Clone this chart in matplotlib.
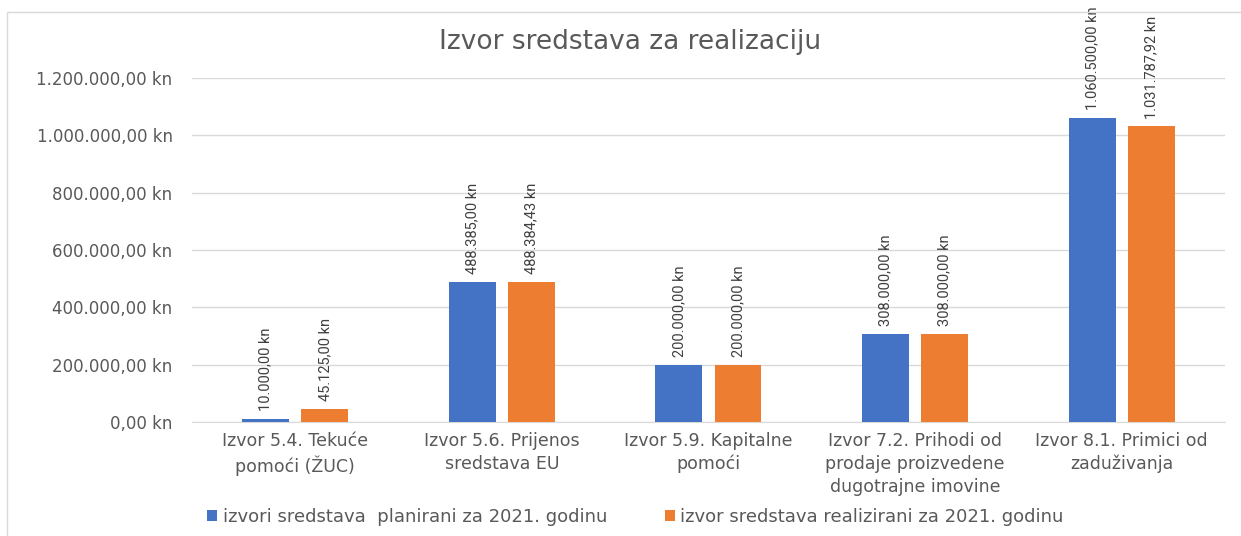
import numpy as np
import matplotlib.pyplot as plt
from matplotlib.patches import Rectangle

categories = [
    "Izvor 5.4. Tekuće\npomoći (ŽUC)",
    "Izvor 5.6. Prijenos\nsredstava EU",
    "Izvor 5.9. Kapitalne\npomoći",
    "Izvor 7.2. Prihodi od\nprodaje proizvedene\ndugotrajne imovine",
    "Izvor 8.1. Primici od\nzaduživanja",
]
planned = [10000.00, 488385.00, 200000.00, 308000.00, 1060500.00]
realized = [45125.00, 488384.43, 200000.00, 308000.00, 1031787.92]
series_names = [
    "izvori sredstava  planirani za 2021. godinu",
    "izvor sredstava realizirani za 2021. godinu",
]
yticks = [0, 200000, 400000, 600000, 800000, 1000000, 1200000]


def kn(v):
    s = f"{v:,.2f}"
    s = s.replace(",", "X").replace(".", ",").replace("X", ".")
    return s + " kn"


plt.rcParams['font.family'] = ['DejaVu Sans']
grey = '#595959'

fig = plt.figure(figsize=(12.41, 5.36), dpi=100)
ax = fig.add_axes([0.1547, 0.2127, 0.8324, 0.6418])

x = np.arange(len(categories))
w = 0.227
off = 0.143
b1 = ax.bar(x - off, planned, w, color='#4472C4', label=series_names[0], zorder=3)
b2 = ax.bar(x + off, realized, w, color='#ED7D31', label=series_names[1], zorder=3)

# value labels, rotated like in the source chart
for bars, vals in [(b1, planned), (b2, realized)]:
    for rect, v in zip(bars, vals):
        ax.annotate(kn(v), (rect.get_x() + rect.get_width() / 2, v),
                    xytext=(0, 5.5), textcoords='offset points',
                    rotation=90, ha='center', va='bottom',
                    fontsize=10.5, color='#404040', family=['Roboto', 'DejaVu Sans'],
                    clip_on=False)

ax.set_xlim(-0.5, len(categories) - 0.5)
ax.set_ylim(0, 1200000)
ax.set_yticks(yticks)
ax.set_yticklabels([kn(v) for v in yticks], fontsize=12, color=grey)
ax.set_xticks(x)
ax.set_xticklabels(categories, fontsize=12.5, color=grey, linespacing=1.35)
ax.tick_params(axis='x', length=0, pad=7)
ax.tick_params(axis='y', length=0, pad=14)
ax.grid(axis='y', color='#d9d9d9', linewidth=1, zorder=0)
for s in ['top', 'right', 'left']:
    ax.spines[s].set_visible(False)
ax.spines['bottom'].set_color('#d9d9d9')

fig.text(0.508, 0.921, "Izvor sredstava za realizaciju", ha='center', va='center',
         fontsize=19, color=grey)

fig.legend(loc='center', bbox_to_anchor=(0.512, 0.035), ncol=2, frameon=False,
           fontsize=13, labelcolor=grey, handlelength=0.55, handleheight=0.55,
           handletextpad=0.3, columnspacing=3.2)

# light border of the chart area
fig.patches.append(Rectangle((7 / 1241, -0.1), 1.2, 1.1 - 12 / 536,
                             transform=fig.transFigure, fill=False,
                             edgecolor='#d9d9d9', linewidth=1))

fig.savefig('out.png', dpi=100)
